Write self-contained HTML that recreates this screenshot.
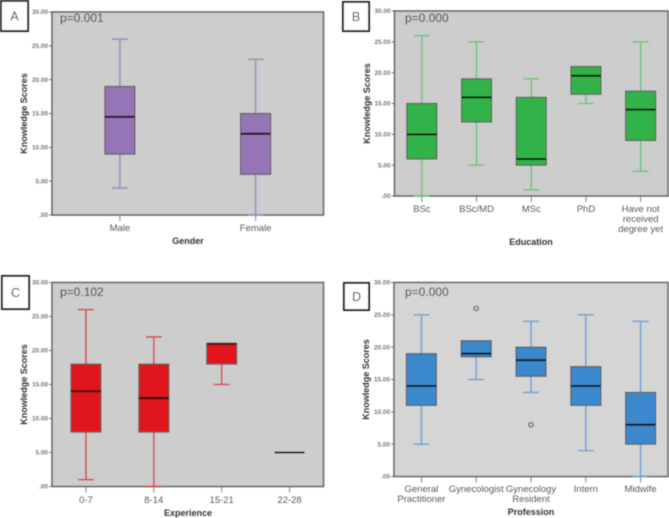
<!DOCTYPE html>
<html lang="en">
<head>
<meta charset="utf-8">
<title>Knowledge Scores box plots</title>
<style>
html,body{margin:0;padding:0;background:#fff;}
body{width:669px;height:518px;overflow:hidden;}
svg{display:block;font-family:"Liberation Sans",sans-serif;}
</style>
</head>
<body>
<svg id="figure" xmlns="http://www.w3.org/2000/svg" width="669" height="518" viewBox="0 0 669 518">
<defs><filter id="soft" x="-2%" y="-2%" width="104%" height="104%"><feGaussianBlur stdDeviation="0.45"/></filter></defs>
<g id="root" filter="url(#soft)"></g>
</svg>
<script>
var yTickValues = [0, 5, 10, 15, 20, 25, 30];
var yTickLabels = [".00", "5.00", "10.00", "15.00", "20.00", "25.00", "30.00"];

var genderCategories = ["Male", "Female"];
var genderLow = [4, 0];
var genderQ1 = [9, 6];
var genderMedian = [14.5, 12];
var genderQ3 = [19, 15];
var genderHigh = [26, 23];
var genderOutliers = [];

var educationCategories = ["BSc", "BSc/MD", "MSc", "PhD", "Have not\nreceived\ndegree yet"];
var educationLow = [0, 5, 1, 15, 4];
var educationQ1 = [6, 12, 5, 16.5, 9];
var educationMedian = [10, 16, 6, 19.5, 14];
var educationQ3 = [15, 19, 16, 21, 17];
var educationHigh = [26, 25, 19, 21, 25];
var educationOutliers = [];

var experienceCategories = ["0-7", "8-14", "15-21", "22-28"];
var experienceLow = [1, 0, 15, 5];
var experienceQ1 = [8, 8, 18, 5];
var experienceMedian = [14, 13, 21, 5];
var experienceQ3 = [18, 18, 21, 5];
var experienceHigh = [26, 22, 21, 5];
var experienceOutliers = [];

var professionCategories = ["General\nPractitioner", "Gynecologist", "Gynecology\nResident", "Intern", "Midwife"];
var professionLow = [5, 15, 13, 4, 0];
var professionQ1 = [11, 18.5, 15.5, 11, 5];
var professionMedian = [14, 19, 18, 14, 8];
var professionQ3 = [19, 21, 20, 17, 13];
var professionHigh = [25, 21, 24, 25, 24];
var professionOutliers = [[1, 26], [2, 8]];

var panels = [
  {id:"a", letter:"A", p:"p=0.001", title:"Gender", cats:genderCategories, low:genderLow, q1:genderQ1, med:genderMedian, q3:genderQ3, high:genderHigh, out:genderOutliers,
   l:52, r:323.5, t:12, b:215, bg:"#cdcdcd", fill:"#9575b5", whisk:"#a089c0", lab:[1,1,27,30], pX:60, pY:22, catY:231, titleY:244, titleX:188, yTitleX:27},
  {id:"b", letter:"B", p:"p=0.000", title:"Education", cats:educationCategories, low:educationLow, q1:educationQ1, med:educationMedian, q3:educationQ3, high:educationHigh, out:educationOutliers,
   l:394.5, r:668, t:11, b:196, bg:"#cdcdcd", fill:"#33b34a", whisk:"#6cc680", lab:[343,2,26,29], pX:405, pY:22, catY:212, titleY:245, titleX:531, yTitleX:370},
  {id:"c", letter:"C", p:"p=0.102", title:"Experience", cats:experienceCategories, low:experienceLow, q1:experienceQ1, med:experienceMedian, q3:experienceQ3, high:experienceHigh, out:experienceOutliers,
   l:52, r:323.5, t:282.5, b:486.5, bg:"#cdcdcd", fill:"#e0141c", whisk:"#d9444c", lab:[2,276,27,33], pX:60, pY:296, catY:503, titleY:516, titleX:188, yTitleX:27},
  {id:"d", letter:"D", p:"p=0.000", title:"Profession", cats:professionCategories, low:professionLow, q1:professionQ1, med:professionMedian, q3:professionQ3, high:professionHigh, out:professionOutliers,
   l:394, r:668, t:282.5, b:476.5, bg:"#d5d5d5", fill:"#3b88cc", whisk:"#6ea6d8", lab:[344,283,25,27], pX:405, pY:296, catY:492, titleY:515, titleX:531, yTitleX:369}
];

var NS = "http://www.w3.org/2000/svg";
var root = document.getElementById("root");

function make(tag, parent, attrs, text) {
  var n = document.createElementNS(NS, tag);
  for (var k in attrs) n.setAttribute(k, attrs[k]);
  if (text !== undefined) n.textContent = text;
  parent.appendChild(n);
  return n;
}

function drawPanel(P) {
  var yScale = function (v) { return P.b - (v / 30) * (P.b - P.t); };
  var step = (P.r - P.l) / P.cats.length;
  var xScale = function (i) { return P.l + (i + 0.5) * step; };

  var g = make("g", root, {});
  
  

  var bg = make("rect", g, {x:P.l, y:P.t, width:P.r - P.l, height:P.b - P.t, fill:P.bg, stroke:"#5f5f5f", "stroke-width":1.5});
  
  

  yTickValues.forEach(function (v, i) {
    var y = yScale(v);
    var tick = make("line", g, {x1:P.l - 3, x2:P.l, y1:y, y2:y, stroke:"#555", "stroke-width":0.8});
    
    
    var label = make("text", g, {x:P.l - 4, y:y + 2.2, "text-anchor":"end", "font-size":6.4, "font-weight":"bold", fill:"#777"}, yTickLabels[i]);
    
    
  });

  P.cats.forEach(function (cat, i) {
    var x = xScale(i);
    var boxHalf = 15;
    var capHalf = 8;

    var tick = make("line", g, {x1:x, x2:x, y1:P.b, y2:P.b + 6, stroke:"#666", "stroke-width":0.8});
    
    

    var label = make("text", g, {"text-anchor":"middle", "font-size":9.5, fill:"#5a5a5a"});
    
    
    cat.split("\n").forEach(function (line, j) {
      make("tspan", label, {x:x, y:P.catY + j * 10}, line);
    });

    var box = make("g", g, {});
    
    

    if (P.high[i] > P.q3[i]) {
      make("line", box, {x1:x, x2:x, y1:yScale(P.high[i]), y2:yScale(P.q3[i]), stroke:P.whisk, "stroke-width":1.6});
      make("line", box, {x1:x - capHalf, x2:x + capHalf, y1:yScale(P.high[i]), y2:yScale(P.high[i]), stroke:P.whisk, "stroke-width":1.6});
    }
    if (P.low[i] < P.q1[i]) {
      make("line", box, {x1:x, x2:x, y1:yScale(P.q1[i]), y2:yScale(P.low[i]), stroke:P.whisk, "stroke-width":1.6});
      make("line", box, {x1:x - capHalf, x2:x + capHalf, y1:yScale(P.low[i]), y2:yScale(P.low[i]), stroke:P.whisk, "stroke-width":1.6});
    }
    if (P.q3[i] > P.q1[i]) {
      make("rect", box, {x:x - boxHalf, y:yScale(P.q3[i]), width:boxHalf * 2, height:yScale(P.q1[i]) - yScale(P.q3[i]), fill:P.fill, stroke:"#555", "stroke-width":1.1});
    }
    make("line", box, {x1:x - boxHalf, x2:x + boxHalf, y1:yScale(P.med[i]), y2:yScale(P.med[i]), stroke:"#111", "stroke-width":2});
  });

  P.out.forEach(function (o) {
    var c = make("circle", g, {cx:xScale(o[0]), cy:yScale(o[1]), r:2.2, fill:"none", stroke:"#555", "stroke-width":1.2});
    
    
  });

  var yTitle = make("text", g, {x:P.yTitleX, y:(P.t + P.b) / 2, transform:"rotate(-90 " + P.yTitleX + " " + ((P.t + P.b) / 2) + ")", "text-anchor":"middle", "font-size":9, "font-weight":"bold", fill:"#333"}, "Knowledge Scores");
  
  

  var xTitle = make("text", g, {x:P.titleX, y:P.titleY, "text-anchor":"middle", "font-size":9, "font-weight":"bold", fill:"#333"}, P.title);
  
  

  var pVal = make("text", g, {x:P.pX, y:P.pY, "font-size":12, fill:"#333"}, P.p);
  
  

  var lg = make("g", g, {});
  
  
  make("rect", lg, {x:P.lab[0], y:P.lab[1], width:P.lab[2], height:P.lab[3], fill:"#fff", stroke:"#222", "stroke-width":2});
  make("text", lg, {x:P.lab[0] + P.lab[2] / 2, y:P.lab[1] + P.lab[3] / 2 + 4.5, "text-anchor":"middle", "font-size":12.5, fill:"#333"}, P.letter);
}

panels.forEach(drawPanel);
</script>
</body>
</html>
